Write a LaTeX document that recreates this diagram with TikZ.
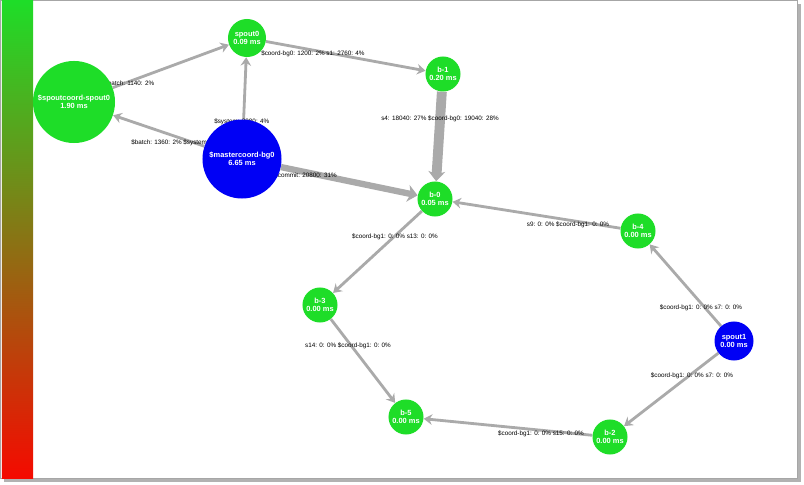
\documentclass[tikz,border=0pt]{standalone}
\usepackage{fontspec}
\setmainfont{Liberation Sans}
\usetikzlibrary{arrows.meta, backgrounds}
\definecolor{stormgreen}{RGB}{30,221,40}
\definecolor{stormblue}{RGB}{0,0,245}
\definecolor{stormred}{RGB}{245,10,0}
\definecolor{stormolive}{RGB}{130,115,30}
\definecolor{edgegray}{RGB}{170,170,170}

\begin{document}
\begin{tikzpicture}[
    x=0.025cm, y=-0.025cm,
    bolt/.style={circle,fill=stormgreen,text=white,inner sep=0pt,
                 minimum size=0.875cm,align=center,
                 font=\fontsize{5.3}{6}\selectfont\bfseries},
    spout/.style={bolt,fill=stormblue},
    flow/.style={-{Stealth[length=6pt,width=7.5pt,inset=2pt]},color=edgegray,line width=2pt},
    heavy/.style={flow,-{Stealth[length=7pt,width=12pt,inset=2pt]},line width=4.5pt},
    stat/.style={font=\fontsize{4.5}{5}\selectfont,inner sep=0pt}
]
  \useasboundingbox (0,0) rectangle (804,485);

  % Colour scale
  \shade[top color=stormgreen,middle color=stormolive,bottom color=stormred] (2,1) rectangle (33,478);

  % Spouts and bolts
  \node[bolt,minimum size=2.05cm] (spoutcoord) at (74,102) {\$spoutcoord-spout0\\1.90 ms};
  \node[bolt,minimum size=0.95cm] (spout0) at (247,38) {spout0\\0.09 ms};
  \node[bolt] (b1) at (443,74) {b-1\\0.20 ms};
  \node[spout,minimum size=1.975cm] (master) at (242,159) {\$mastercoord-bg0\\6.65 ms};
  \node[bolt] (b0) at (435,199) {b-0\\0.05 ms};
  \node[bolt] (b4) at (638,231) {b-4\\0.00 ms};
  \node[spout,minimum size=0.975cm] (spout1) at (734,341) {spout1\\0.00 ms};
  \node[bolt] (b3) at (320,305) {b-3\\0.00 ms};
  \node[bolt] (b5) at (406,417) {b-5\\0.00 ms};
  \node[bolt] (b2) at (610,437) {b-2\\0.00 ms};

  \begin{scope}[on background layer]
    % Panel
    \fill[gray!60] (4,4) rectangle (801,482);
    \filldraw[fill=white,draw=gray!70] (0,0) rectangle (797,478);

    % Streams
    \draw[flow] (spoutcoord) -- (spout0);
    \draw[flow] (master) -- (spoutcoord);
    \draw[flow] (master) -- (spout0);
    \draw[flow] (spout0) -- (b1);
    \draw[heavy,line width=7pt] (b1) -- (b0);
    \draw[heavy] (master) -- (b0);
    \draw[flow] (b4) -- (b0);
    \draw[flow] (b0) -- (b3);
    \draw[flow] (spout1) -- (b4);
    \draw[flow] (b3) -- (b5);
    \draw[flow] (spout1) -- (b2);
    \draw[flow] (b2) -- (b5);

    % Stream counts
    \node[stat,anchor=west] (l1) at (104,83) {\$batch: 1140: 2\%};
    \node[stat,anchor=west] (l2) at (131,143) {\$batch: 1360: 2\% \$system: 1360: 2\%};
    \node[stat,anchor=west] (l3) at (214,122) {\$system: 2880: 4\%};
    \node[stat,anchor=west] (l4) at (261,54) {\$coord-bg0: 1200: 2\% s1: 2760: 4\%};
    \node[stat] (l5) at (440,119) {s4: 18040: 27\% \$coord-bg0: 19040: 28\%};
    \node[stat,anchor=east] (l6) at (337,175) {\$commit: 20800: 31\%};
    \node[stat] (l7) at (568,225) {s9: 0: 0\% \$coord-bg1: 0: 0\%};
    \node[stat] (l8) at (395,237) {\$coord-bg1: 0: 0\% s13: 0: 0\%};
    \node[stat] (l9) at (701,308) {\$coord-bg1: 0: 0\% s7: 0: 0\%};
    \node[stat] (l10) at (348,346) {s14: 0: 0\% \$coord-bg1: 0: 0\%};
    \node[stat] (l11) at (692,376) {\$coord-bg1: 0: 0\% s7: 0: 0\%};
    \node[stat] (l12) at (541,434) {\$coord-bg1: 0: 0\% s15: 0: 0\%};
  \end{scope}

\end{tikzpicture}
\end{document}
